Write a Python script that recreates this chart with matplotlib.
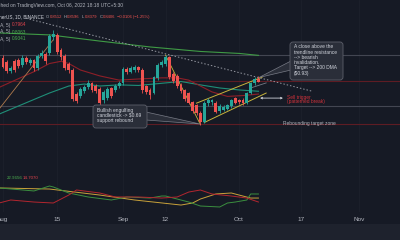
import matplotlib
matplotlib.use('Agg')
import matplotlib.pyplot as plt
import matplotlib.dates as mdates
import matplotlib.transforms as mtransforms
from matplotlib.patches import FancyBboxPatch, Polygon, Rectangle
import numpy as np
import pandas as pd

# ---------------- data ----------------
dates = pd.date_range('2022-08-01', '2022-10-06', freq='D')
opens = [.925, .911, .878, .914, .918, .900, .925, .907, .918, .889, .932, .939, .943, 1.000, 1.007,
         .953, .932, .903, .882, .797, .790, .807, .822, .836, .825, .814, .775, .782, .818, .811,
         .825, .836, .886, .875, .882, .893, .882, .825, .811, .800, .853, .900, .903, .928, .868,
         .861, .829, .811, .800, .768, .757, .729, .697, .765, .768, .765, .736, .740, .743, .754,
         .782, .775, .775, .765, .800, .836, .8512]
highs = [.935, .918, .895, .920, .925, .935, .932, .925, .922, .940, .952, .945, 1.010, 1.024, 1.012,
         .960, .940, .910, .888, .805, .820, .830, .845, .840, .832, .820, .810, .822, .822, .832,
         .842, .892, .893, .895, .900, .897, .888, .830, .818, .862, .907, .918, .935, .932, .875,
         .866, .834, .815, .805, .772, .762, .735, .770, .782, .780, .770, .760, .757, .762, .780,
         .786, .780, .782, .805, .840, .856, .8596]
lows = [.888, .872, .870, .876, .890, .893, .905, .900, .878, .882, .925, .905, .935, .990, .940,
        .918, .882, .872, .770, .765, .782, .800, .815, .805, .800, .755, .765, .776, .783, .805,
        .818, .830, .868, .870, .876, .876, .800, .795, .780, .795, .848, .893, .897, .850, .836,
        .818, .800, .772, .760, .730, .722, .686, .692, .755, .757, .728, .730, .735, .738, .748,
        .760, .760, .758, .760, .795, .830, .8379]
closes = [.893, .878, .889, .882, .896, .925, .911, .918, .889, .932, .943, .914, 1.003, 1.010, .946,
          .928, .889, .882, .779, .772, .814, .822, .836, .811, .807, .765, .804, .814, .790, .825,
          .836, .886, .875, .889, .893, .882, .811, .804, .793, .857, .900, .911, .928, .857, .843,
          .825, .807, .779, .765, .736, .729, .697, .765, .775, .775, .733, .754, .750, .757, .775,
          .765, .768, .765, .800, .836, .850, .8406]

ema20_dates = ['2022-07-31', '2022-08-09', '2022-08-13', '2022-08-16', '2022-08-18', '2022-08-21',
               '2022-08-26', '2022-08-31', '2022-09-05', '2022-09-11', '2022-09-15', '2022-09-18',
               '2022-09-21', '2022-09-24', '2022-09-28', '2022-10-02', '2022-10-06']
ema20_vals = [0.820, 0.876, 0.905, 0.913, 0.905, 0.882, 0.861, 0.846, 0.850, 0.854, 0.854, 0.846,
              0.825, 0.804, 0.788, 0.791, 0.7964]
ema50_dates = ['2022-07-31', '2022-08-09', '2022-08-13', '2022-08-18', '2022-08-22', '2022-08-26',
               '2022-08-31', '2022-09-05', '2022-09-12', '2022-09-16', '2022-09-21', '2022-09-26',
               '2022-10-01', '2022-10-06']
ema50_vals = [0.725, 0.777, 0.800, 0.825, 0.832, 0.825, 0.829, 0.827, 0.836, 0.841, 0.829, 0.818,
              0.811, 0.8063]
sma200_dates = ['2022-07-31', '2022-08-13', '2022-08-26', '2022-09-08', '2022-09-21', '2022-10-01',
                '2022-10-06']
sma200_vals = [1.014, 1.007, 0.985, 0.964, 0.948, 0.941, 0.9341]

level_gray = [0.935, 0.754]
level_red = [0.843, 0.690]

trend_dates = ['2022-08-07', '2022-10-20']; trend_vals = [1.066, 0.806]
rise_dates = ['2022-07-31', '2022-08-14']; rise_vals = [0.743, 0.990]
pole_dates = ['2022-09-12', '2022-09-21']; pole_vals = [0.935, 0.688]
chan_up_dates = ['2022-09-20', '2022-10-07']; chan_up_vals = [0.764, 0.857]
chan_lo_dates = ['2022-09-22', '2022-10-08']; chan_lo_vals = [0.695, 0.800]
chan_mid_dates = ['2022-10-04', '2022-10-08']; chan_mid_vals = [0.818, 0.836]
arrow_dates = ['2022-10-06 10:00', '2022-10-12 08:00']; arrow_val = 0.782

adx_dates = ['2022-07-31', '2022-08-13', '2022-08-26', '2022-09-04', '2022-09-16', '2022-09-19',
             '2022-09-21', '2022-09-25', '2022-09-29', '2022-10-01', '2022-10-04', '2022-10-06']
adx_vals = [29.2, 28.1, 21.9, 16.8, 11.6, 13.7, 17.8, 23.0, 24.0, 21.9, 18.8, 18.8]
pdi_dates = ['2022-07-31', '2022-08-09', '2022-08-13', '2022-08-14', '2022-08-18', '2022-08-23',
             '2022-08-29', '2022-09-02', '2022-09-08', '2022-09-11', '2022-09-12', '2022-09-18',
             '2022-09-21', '2022-09-26', '2022-09-28', '2022-09-30', '2022-10-03', '2022-10-04',
             '2022-10-06']
pdi_vals = [29.2, 26.1, 31.2, 30.2, 24.0, 19.9, 16.8, 19.9, 18.8, 20.9, 20.9, 14.7, 10.6, 9.6,
            13.7, 14.7, 16.8, 23.0, 22.97]
mdi_dates = ['2022-07-31', '2022-08-03', '2022-08-09', '2022-08-14', '2022-08-18', '2022-08-20',
             '2022-08-26', '2022-08-30', '2022-09-05', '2022-09-11', '2022-09-15', '2022-09-18',
             '2022-09-21', '2022-09-24', '2022-09-29', '2022-10-03', '2022-10-06']
mdi_vals = [13.7, 16.8, 14.7, 13.7, 21.9, 27.1, 24.0, 19.9, 19.9, 18.8, 19.9, 25.0, 27.1, 23.0,
            20.9, 18.8, 14.71]

tick_dates = ['2022-08-01', '2022-08-15', '2022-09-01', '2022-09-12', '2022-10-01', '2022-10-17',
              '2022-11-01']
tick_labels = ['Aug', '15', 'Sep', '12', 'Oct', '17', 'Nov']

# ---------------- style ----------------
BG = '#161a25'
UP = '#26a69a'
DN = '#ef5350'
plt.rcParams['font.family'] = ['Liberation Sans', 'DejaVu Sans']


def dn(lst):
    return mdates.date2num(pd.to_datetime(lst))


fig = plt.figure(figsize=(4, 2.4), dpi=100, facecolor=BG)
ax = fig.add_axes([0, 90 / 240, 1, 150 / 240])
axi = fig.add_axes([0, 28 / 240, 1, 62 / 240])
px = mtransforms.Affine2D().scale(1 / 400, -1 / 240).translate(0, 1) + fig.transFigure

x0 = mdates.date2num(pd.Timestamp('2022-08-01'))
for a in (ax, axi):
    a.set_facecolor('none')
    a.set_xlim(x0 - 0.775, x0 + 102.58)
    for s in a.spines.values():
        s.set_visible(False)
    a.set_yticks([])
    for t in dn(tick_dates):
        a.axvline(t, color='#1c202b', lw=0.6, zorder=0)
ax.set_ylim(0.5972, 1.1312)
axi.set_ylim(4.43, 68.3)
ax.set_xticks([])
axi.set_xticks(dn(tick_dates))
axi.set_xticklabels(tick_labels)
axi.tick_params(axis='x', length=0, pad=3.5, labelsize=4.6, labelcolor='#b2b5be')

# horizontal levels
for lv in level_gray:
    ax.axhline(lv, color='#434652', lw=0.8, zorder=1)
for lv in level_red:
    ax.axhline(lv, color='#5e1c24', lw=0.8, zorder=1)

# moving averages
ax.plot(dn(sma200_dates), sma200_vals, color='#3f9a45', lw=0.8, zorder=2)
ax.plot(dn(ema50_dates), ema50_vals, color='#1f8f78', lw=0.8, zorder=2)
ax.plot(dn(ema20_dates), ema20_vals, color='#8e1f28', lw=0.8, zorder=2)

# drawings
ax.plot(dn(trend_dates), trend_vals, color='#9598a1', lw=0.7, dashes=(1.5, 2), zorder=3)
ax.plot(dn(rise_dates), rise_vals, color='#b07a4c', lw=0.6, zorder=3)
ax.plot(dn(pole_dates), pole_vals, color='#c8b43c', lw=0.6, zorder=3)
ax.plot(dn(chan_up_dates), chan_up_vals, color='#c8b43c', lw=0.7, zorder=3)
ax.plot(dn(chan_lo_dates), chan_lo_vals, color='#c8b43c', lw=0.7, zorder=3)
ax.plot(dn(chan_mid_dates), chan_mid_vals, color='#787b86', lw=0.6, zorder=3)
ax.annotate('', xy=(dn(arrow_dates)[1], arrow_val), xytext=(dn(arrow_dates)[0], arrow_val),
            arrowprops=dict(arrowstyle='<->', color='#d1d4dc', lw=0.6, mutation_scale=3,
                            shrinkA=0, shrinkB=0), zorder=4)

# candles
xs = dn(dates)
o = np.array(opens); h = np.array(highs); l = np.array(lows); c = np.array(closes)
cols = np.where(c >= o, UP, DN)
ax.vlines(xs, l, h, colors=cols, lw=0.6, zorder=5)
ax.bar(xs, np.maximum(np.abs(c - o), 0.002), bottom=np.minimum(o, c), width=0.74,
       color=cols, linewidth=0, zorder=6)

# indicator
axi.plot(dn(adx_dates), adx_vals, color='#c9a23a', lw=0.7)
axi.plot(dn(pdi_dates), pdi_vals, color='#3b8f3f', lw=0.7)
axi.plot(dn(mdi_dates), mdi_vals, color='#b3262f', lw=0.7)

# bottom strip
fig.add_artist(Rectangle((0, 224), 400, 16, transform=px, facecolor='#1e222d', edgecolor='none'))


def ft(x, y, s, **kw):
    kw.setdefault('va', 'center')
    kw.setdefault('fontsize', 3.0)
    fig.text(x / 400, 1 - y / 240, s, **kw)


# header texts
ft(123, 6, 'Published on TradingView.com, Oct 06, 2022 18:18 UTC+5:30', ha='right', color='#b2b5be',
   fontsize=3.5)
ft(44, 17, 'MATIC / TetherUS, 1D, BINANCE', ha='right', color='#d1d4dc', fontsize=3.3)
for xx, s, col in [(46, 'O', '#b2b5be'), (49.5, '0.8512', DN), (64, 'H', '#b2b5be'), (67, '0.8596', DN),
                   (82, 'L', '#b2b5be'), (84.5, '0.8379', DN), (99.5, 'C', '#b2b5be'), (102.5, '0.8406', DN),
                   (117, '\u22120.0106 (\u22121.25%)', DN)]:
    ft(xx, 17, s, ha='left', color=col)
for yy, val, col in [(25, '0.7964', '#e0434d'), (32, '0.8063', '#4caf50'), (39, '0.9341', '#4caf50')]:
    ft(10, yy, 'SMA, 5)', ha='right', color='#b2b5be', fontsize=3.4)
    ft(12, yy, val, ha='left', color=col, fontsize=3.4)

# indicator values
ft(7, 178, '22.9656', ha='left', color='#4caf50', fontsize=3.2)
ft(23, 178, '14.7070', ha='left', color='#e0434d', fontsize=3.2)

# callout boxes
BOXF = '#2a2e39'; BOXE = '#5d606b'
fig.add_artist(Polygon([(291, 61), (291, 70), (259, 77.5)], closed=True, transform=px,
                       facecolor=BOXF, edgecolor='#787b86', lw=0.5))
fig.add_artist(FancyBboxPatch((290, 42), 53, 38, boxstyle='round,pad=0,rounding_size=3',
                              transform=px, facecolor=BOXF, edgecolor=BOXE, lw=0.6))
ft(294, 44.5, 'A close above the\ntrendline resistance\n--> bearish\ninvalidation.\nTarget --> 200 DMA\n($0.93)',
   ha='left', va='top', color='#d1d4dc', fontsize=3.5, linespacing=1.05)

fig.add_artist(Polygon([(146, 112), (146, 120), (200, 124)], closed=True, transform=px,
                       facecolor=BOXF, edgecolor='#787b86', lw=0.5))
fig.add_artist(FancyBboxPatch((93, 105), 54, 23, boxstyle='round,pad=0,rounding_size=3',
                              transform=px, facecolor=BOXF, edgecolor=BOXE, lw=0.6))
ft(97, 107.5, 'Bullish engulfing\ncandlestick -> $0.69\nsupport rebound',
   ha='left', va='top', color='#d1d4dc', fontsize=3.5, linespacing=1.05)

ft(287, 99.5, 'Sell trigger\n(patterned break)', ha='left', color='#d0313a', fontsize=3.5,
   linespacing=1.0)
ft(283, 123.5, 'Rebounding target zone', ha='left', color='#b2b5be', fontsize=3.5)

fig.savefig('out.png', dpi=100, facecolor=BG)
